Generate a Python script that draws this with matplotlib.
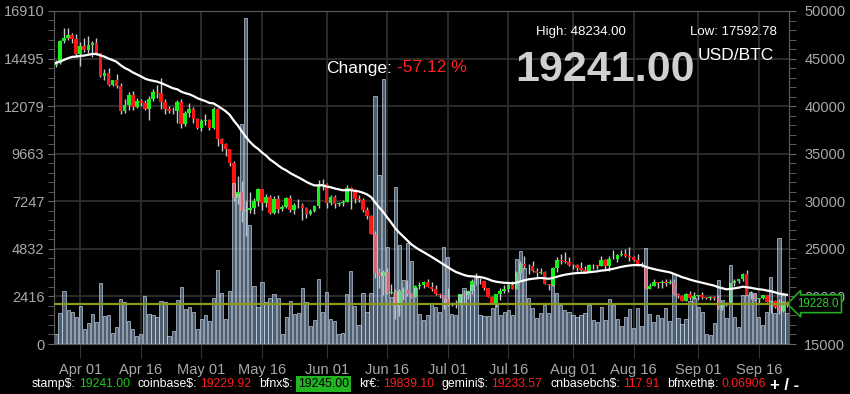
import matplotlib
matplotlib.use('Agg')
import matplotlib.pyplot as plt
import matplotlib.dates as mdates
from matplotlib.ticker import FixedLocator, AutoMinorLocator
import numpy as np
import pandas as pd

plt.rcParams['font.family'] = ['Liberation Sans', 'DejaVu Sans']

# ---- data (daily, 2022-03-26 .. 2022-09-23) ----
start_day = '2022-03-26'

opens = [44330, 44540, 46820, 47130, 47450, 47060,
         45530, 46280, 45860, 46450, 46620, 45550, 43200, 43450, 42250, 42760,
         42160, 39530, 40080, 41150, 39940, 40550, 40380, 39680, 40800, 41500,
         41370, 40480, 39710, 39470, 39450, 40430, 38120, 39240, 39740, 38600,
         37710, 38470, 38530, 37750, 39700, 36570, 36040, 35500, 34060, 30300,
         31020, 28940, 29050, 29280, 30080, 31300, 29860, 30420, 28720, 30290,
         29200, 29430, 30300, 29100, 29650, 29560, 29270, 28630, 29030, 29470, 31730,
         31790, 29800, 30450, 29700, 29860, 29900, 31370, 31130, 30200, 30110,
         29080, 28420, 26570, 22480, 22130, 22580, 20380, 20470, 19010, 20550,
         20710, 20280, 19980, 21100, 21230, 21500, 21030, 20730, 20280, 20100,
         19780, 19300, 19250, 19300, 20220, 20180, 20550, 21620, 21590, 21590,
         20850, 19960, 19330, 20210, 20570, 20830, 21190, 20780, 22430, 23390,
         23230, 23160, 22680, 22460, 22580, 21310, 21250, 22950, 23850, 23770, 23640,
         23300, 23270, 22980, 22820, 22620, 23310, 23260, 23170, 23810, 23160,
         23950, 23930, 24400, 24440, 24300, 24100, 23850, 23340, 23190, 20830,
         21130, 21510, 21400, 21530, 21370, 21560, 20240, 20040, 19550, 20290, 19800,
         20050, 20130, 19950, 19830, 19990, 19800, 18790, 19290, 19320, 21370,
         21650, 21830, 22400, 20170, 20230, 19700, 19800, 20110, 19420, 19540,
         18880, 18490, 19410]

closes = [44540, 46820, 47130, 47450, 47060, 45530,
          46280, 45860, 46450, 46620, 45550, 43200, 43450, 42250, 42760, 42160,
          39530, 40080, 41150, 39940, 40550, 40380, 39680, 40800, 41500, 41370,
          40480, 39710, 39470, 39450, 40430, 38120, 39240, 39740, 38600, 37710,
          38470, 38530, 37750, 39700, 36570, 36040, 35500, 34060, 30300, 31020,
          28940, 29050, 29280, 30080, 31300, 29860, 30420, 28720, 30290, 29200,
          29430, 30300, 29100, 29650, 29560, 29270, 28630, 29030, 29470, 31730, 31790,
          29800, 30450, 29700, 29860, 29900, 31370, 31130, 30200, 30110, 29080,
          28420, 26570, 22480, 22130, 22580, 20380, 20470, 19010, 20550, 20710,
          20280, 19980, 21100, 21230, 21500, 21030, 20730, 20280, 20100, 19780,
          19300, 19250, 19300, 20220, 20180, 20550, 21620, 21590, 21590, 20850,
          19960, 19330, 20210, 20570, 20830, 21190, 20780, 22430, 23390, 23230,
          23160, 22680, 22460, 22580, 21310, 21250, 22950, 23850, 23770, 23640, 23300,
          23270, 22980, 22820, 22620, 23310, 23260, 23170, 23810, 23160, 23950,
          23930, 24400, 24440, 24300, 24100, 23850, 23340, 23190, 20830, 21130,
          21510, 21400, 21530, 21370, 21560, 20240, 20040, 19550, 20290, 19800, 20050,
          20130, 19950, 19830, 19990, 19800, 18790, 19290, 19320, 21370, 21650,
          21830, 22400, 20170, 20230, 19700, 19800, 20110, 19420, 19540, 18880,
          18490, 19410, 19241]

highs = [44800, 46900, 48190, 48234, 47700, 47600,
         46700, 47200, 47420, 46880, 47150, 45550, 43900, 43970, 42800, 43420,
         42420, 40700, 41500, 41560, 40860, 40700, 40600, 41100, 41760, 42200,
         42970, 40800, 39980, 39920, 40600, 40790, 39450, 40350, 39920, 38800,
         38660, 39150, 38640, 39920, 39830, 36650, 36140, 35500, 34240, 32650,
         32150, 30050, 30990, 30300, 31400, 31300, 30750, 30650, 30520, 30700,
         29600, 30450, 30640, 29830, 30200, 29840, 29380, 29200, 29570, 32190, 32380,
         31950, 30620, 30650, 29940, 30150, 31750, 31550, 31320, 30700, 30330,
         29420, 28520, 26880, 23000, 22770, 22970, 21340, 20760, 20780, 21000,
         21700, 20410, 21200, 21520, 21610, 21840, 21500, 21170, 20400, 20150,
         20860, 19420, 19650, 20300, 20710, 20640, 21800, 22500, 21940, 21590,
         20860, 20040, 20250, 20870, 21180, 21560, 21650, 22720, 23750, 24250,
         23400, 23740, 22970, 23010, 22650, 21340, 23080, 24180, 24420, 24650, 24170,
         23460, 23440, 23640, 23220, 23450, 23380, 23350, 24230, 23940, 24200,
         24900, 24450, 24880, 25000, 25210, 24230, 24440, 23590, 23200, 21360,
         21800, 21520, 21690, 21830, 21790, 21810, 20360, 20140, 20400, 20550, 20470,
         20190, 20430, 19960, 20000, 20040, 20170, 19450, 19450, 21450, 21800,
         21850, 22490, 22790, 20530, 20330, 19880, 20180, 20130, 19660, 19610,
         19700, 19480, 19500]

lows = [44100, 44420, 46660, 46950, 46600, 45200,
        44250, 45650, 45550, 45150, 45380, 43100, 42750, 42120, 42130, 41900,
        39200, 39250, 39570, 39580, 39780, 40020, 39560, 38540, 40570, 40900,
        39750, 39200, 39290, 39150, 38200, 37720, 37880, 38900, 38200, 37580,
        37400, 38050, 37520, 37600, 35860, 35260, 34790, 33740, 30050, 29750,
        27800, 26350, 28740, 28650, 29490, 29100, 29450, 28640, 28700, 28730,
        28960, 29250, 28900, 28670, 29330, 28040, 28280, 28510, 28840, 29300, 31220,
        29320, 29580, 29250, 29480, 29510, 29880, 29230, 29860, 29950, 28880,
        28110, 26570, 21930, 20850, 20100, 20250, 20250, 17593, 17960, 19640,
        20050, 19800, 19900, 20750, 20920, 20960, 20540, 20200, 19880, 18630,
        19000, 19000, 18800, 19100, 19310, 19780, 20270, 21200, 21330, 20700,
        19900, 19250, 18920, 19630, 20400, 20480, 20750, 20760, 21680, 22930,
        22350, 22520, 21980, 22310, 21260, 20710, 21050, 22580, 23440, 23520, 23250,
        22860, 22660, 22700, 22430, 22600, 22930, 22880, 23150, 22880, 22690,
        23900, 23620, 24300, 24150, 23760, 23690, 23220, 23130, 20810, 20790,
        21110, 20880, 20920, 21130, 21330, 20130, 19860, 19520, 19540, 19580, 19780,
        19640, 19780, 19680, 19600, 19640, 18700, 18550, 19010, 19300, 21130,
        21400, 21570, 20100, 19680, 19550, 19320, 19770, 19380, 18270, 18770,
        18130, 18380, 18880]

volumes = [510, 1570, 2700, 1730, 1640, 1390, 1930, 760, 1080, 1520, 1130, 3100,
           1420, 1470, 560, 880, 2300, 2130, 1180, 760, 410, 510, 2440,
           1500, 1470, 1390, 2180, 2150, 410, 680, 2230, 2910, 1790, 1880, 1620,
           760, 1270, 1470, 1170, 2340,
           3760, 2610, 1250, 2690, 8200, 7600, 11170, 16550,
           6040, 2950, 1900, 3150, 2150, 2340, 2540, 2350,
           510, 1370, 2180, 1520, 1570, 2840, 2130,
           910, 1200, 3300, 1620, 2640, 1270, 1170,
           510, 560, 2540, 3710, 1930, 960, 2590, 1620, 2590,
           12600, 8580, 13460, 4930, 2390, 7970, 5030, 3250, 5130, 4210, 2840,
           1500, 1220, 1470, 2080, 1880, 1620, 4930, 4420, 1520, 1470,
           2490, 2840, 2640, 3000, 3350, 1470, 1420, 1420, 1830, 1980,
           1470, 1620, 1730, 1470, 4320, 4720, 3860, 2340, 1830, 1320,
           1570, 1980, 1570, 3000, 2590, 1980, 1730, 1620, 1470, 1370,
           1470, 1570, 1980, 1220, 1120,
           1880, 1220, 2290, 1980, 1270, 910, 1370, 1780, 810, 1830, 910,
           4870, 1520, 1120, 1470, 1320, 1830, 1170, 3550, 1320, 1020, 1270,
           2180, 2340, 1880, 1620, 510, 460, 1070, 3250, 2230, 1320,
           4010, 1370, 860, 2490, 2490, 2640, 2590, 1370, 960, 1620, 3400, 1570,
           5380, 2490, 1570]

last_price = 19228.0
vol_ticks = [0, 2416, 4832, 7247, 9663, 12079, 14495, 16910]
price_ticks = [15000, 20000, 25000, 30000, 35000, 40000, 45000, 50000]

ticker_names = ['stamp$:', 'coinbase$:', 'bfnx$:', 'kr€:', 'gemini$:',
                'cnbasebch$:', 'bfnxeth฿:']
ticker_values = ['19241.00', '19229.92', '19245.00', '19839.10', '19233.57',
                 '117.91', '0.06906']
ticker_colors = ['#22c422', '#ff1c1c', 'box', '#ff1c1c', '#ff1c1c',
                 '#ff1c1c', '#ff1c1c']

# ---- figure ----
dates = mdates.date2num(pd.date_range(start_day, periods=len(closes)))
o = np.array(opens); c = np.array(closes)
h = np.array(highs); l = np.array(lows)
ma = pd.Series(closes).ewm(span=28, adjust=False).mean()

fig = plt.figure(figsize=(8.5, 3.94), dpi=100, facecolor='black')
ax = fig.add_axes([54/850, 50/394, 735/850, 333/394])
ax.set_facecolor('black')
axv = ax.twinx()

# candles (bottom layer)
up = c >= o
ax.vlines(dates, l, h, color='#c8c8c8', lw=1, zorder=2)
ax.bar(dates[up], (c - o)[up], bottom=o[up], width=0.9, color='#19f019', zorder=3)
ax.bar(dates[~up], (o - c)[~up], bottom=c[~up], width=0.9, color='#ff1414', zorder=3)

# volume bars on top, translucent
axv.bar(dates, volumes, width=0.8, facecolor=(0.62, 0.74, 0.87, 0.5),
        edgecolor=(0.80, 0.87, 0.95, 0.75), linewidth=0.6, zorder=2)

# moving average and last price line (price coordinates)
axv.plot(dates, ma, color='white', lw=1.6, transform=ax.transData, zorder=4)
axv.plot([dates[0] - 1, dates[-1] + 1], [last_price, last_price], color='#8b9a1c',
         lw=1.6, transform=ax.transData, zorder=5)

ax.set_xlim(dates[0] - 0.5, dates[-1] + 0.5)
ax.set_ylim(15000, 50000)
axv.set_ylim(0, 16910)

ax.yaxis.tick_right()
ax.yaxis.set_major_locator(FixedLocator(price_ticks))
ax.yaxis.set_minor_locator(AutoMinorLocator(5))
axv.yaxis.tick_left()
axv.set_yticks(vol_ticks)
axv.set_yticklabels([str(v) for v in vol_ticks])
axv.yaxis.set_minor_locator(AutoMinorLocator(5))

ax.xaxis.set_major_locator(mdates.DayLocator(bymonthday=[1, 16]))
ax.xaxis.set_major_formatter(mdates.DateFormatter('%b %d'))

ax.grid(True, color='#2e2e2e', lw=1.3)
ax.set_axisbelow(True)

ax.tick_params(axis='y', which='both', colors='#666666', labelcolor='#a8a8a8',
               labelsize=10.5, length=5, pad=6)
axv.tick_params(axis='y', which='both', colors='#666666', labelcolor='#a8a8a8',
                labelsize=10.5, length=4, pad=3)
ax.tick_params(axis='x', colors='#333333', labelcolor='#a8a8a8', labelsize=10.5,
               length=10, pad=4)
for a in (ax, axv):
    for s in a.spines.values():
        s.set_color('#5a5a5a')

# last price tag
ax.text(1.011, last_price, '%.1f' % last_price, transform=ax.get_yaxis_transform(),
        ha='left', va='center', fontsize=8.3, color='#2fd02f', zorder=10, clip_on=False,
        bbox=dict(boxstyle='larrow,pad=0.25', fc='black', ec='#22aa22', lw=1.2))

# header texts
fig.text(536/850, 1 - 32/394, 'High: 48234.00', color='white', fontsize=9.5, va='center')
fig.text(777/850, 1 - 32/394, 'Low: 17592.78', color='white', fontsize=9.5,
         va='center', ha='right')
fig.text(515/850, 1 - 70/394, '19241.00', color='#d0d0d0', fontsize=31,
         fontweight='bold', va='center')
fig.text(698/850, 1 - 56/394, 'USD/BTC', color='white', fontsize=12.5, va='center')
fig.text(326/850, 1 - 68/394, 'Change:', color='white', fontsize=12.5, va='center')
fig.text(397/850, 1 - 68/394, '-57.12 %', color='#ff2020', fontsize=12.5, va='center')

# bottom ticker line
fig.canvas.draw()
r = fig.canvas.get_renderer()
x = 32
yt = 1 - 384/394
for name, val, col in zip(ticker_names, ticker_values, ticker_colors):
    t = fig.text(x/850, yt, name, color='white', fontsize=8.8, va='center')
    x = t.get_window_extent(r).x1 + 3
    if col == 'box':
        t = fig.text((x + 2)/850, yt, val, color='black', fontsize=8.8, va='center',
                     bbox=dict(boxstyle='square,pad=0.15', fc='#22b422', ec='none'))
        x = t.get_window_extent(r).x1 + 10
    else:
        t = fig.text(x/850, yt, val, color=col, fontsize=8.8, va='center')
        x = t.get_window_extent(r).x1 + 8
fig.text(770/850, 1 - 386/394, '+ / -', color='white', fontsize=12, va='center',
         fontweight='bold')

fig.savefig('out.png', dpi=100, facecolor='black')
